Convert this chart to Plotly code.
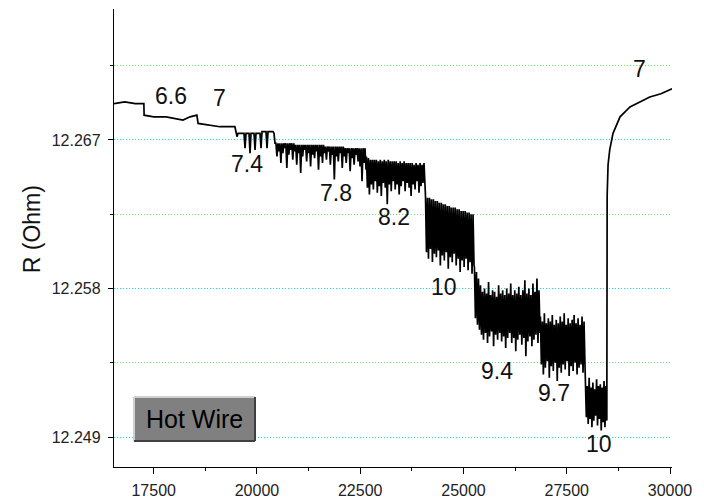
import numpy as np
import plotly.graph_objects as go

# ---------------- data ----------------
# smooth early part (time, R)
smooth_t = [16539, 16800, 17050, 17262, 17268, 17500, 17800, 18050, 18209, 18380, 18545, 18575, 18800, 19100, 19466, 19490]
smooth_v = [12.2692, 12.2693, 12.2692, 12.2692, 12.2685, 12.2684, 12.2684, 12.2683, 12.2682, 12.2684, 12.2685,
            12.2680, 12.2679, 12.2678, 12.2678, 12.2674]

# noisy plateaus: (start time, end time) and sampled values
seg_D_range = (19493, 20437)
seg_D = [12.2674, 12.2672, 12.2674, 12.2674, 12.2674, 12.2674, 12.2674, 12.2674, 12.2674, 12.2665,
         12.2674, 12.2674, 12.2674, 12.2674, 12.2662, 12.2674, 12.2674, 12.2674, 12.2674, 12.2664,
         12.2674, 12.2674, 12.2674, 12.2674, 12.2674, 12.2665, 12.2675, 12.2675, 12.2675, 12.2675,
         12.2675, 12.2665, 12.2675, 12.2675, 12.2675, 12.2675, 12.2675, 12.2675, 12.2674, 12.2668]

seg_E_range = (20460, 22640)
seg_E = [12.2668, 12.2660, 12.2668, 12.2663, 12.2668, 12.2656, 12.2668, 12.2662, 12.2668, 12.2665,
         12.2668, 12.2653, 12.2668, 12.2661, 12.2668, 12.2664, 12.2668, 12.2658, 12.2668, 12.2663,
         12.2667, 12.2655, 12.2667, 12.2662, 12.2667, 12.2650, 12.2667, 12.2660, 12.2667, 12.2664,
         12.2667, 12.2657, 12.2667, 12.2662, 12.2667, 12.2654, 12.2667, 12.2661, 12.2667, 12.2659,
         12.2667, 12.2663, 12.2667, 12.2652, 12.2667, 12.2660, 12.2667, 12.2656, 12.2667, 12.2662,
         12.2666, 12.2658, 12.2666, 12.2663, 12.2666, 12.2655, 12.2666, 12.2661, 12.2666, 12.2646,
         12.2666, 12.2660, 12.2666, 12.2657, 12.2666, 12.2662, 12.2666, 12.2653, 12.2666, 12.2660,
         12.2665, 12.2656, 12.2665, 12.2662, 12.2665, 12.2651, 12.2665, 12.2659, 12.2665, 12.2655,
         12.2665, 12.2661, 12.2665, 12.2657, 12.2665, 12.2654, 12.2665, 12.2645, 12.2665, 12.2656,
         12.2665, 12.2652]

seg_F_range = (22650, 24068)
seg_F = [12.2660, 12.2641, 12.2659, 12.2637, 12.2658, 12.2643, 12.2658, 12.2640, 12.2658, 12.2645,
         12.2658, 12.2638, 12.2657, 12.2642, 12.2658, 12.2636, 12.2657, 12.2644, 12.2658, 12.2641,
         12.2657, 12.2631, 12.2658, 12.2643, 12.2657, 12.2639, 12.2657, 12.2645, 12.2657, 12.2640,
         12.2657, 12.2643, 12.2656, 12.2637, 12.2657, 12.2642, 12.2656, 12.2645, 12.2657, 12.2639,
         12.2656, 12.2644, 12.2656, 12.2641, 12.2656, 12.2636, 12.2656, 12.2643, 12.2655, 12.2640,
         12.2656, 12.2645, 12.2655, 12.2638, 12.2656, 12.2642, 12.2655, 12.2644, 12.2656, 12.2641]

seg_G_range = (24080, 25255)
seg_G = [12.2636, 12.2602, 12.2635, 12.2598, 12.2635, 12.2604, 12.2634, 12.2596, 12.2634, 12.2601,
         12.2633, 12.2599, 12.2633, 12.2603, 12.2632, 12.2594, 12.2632, 12.2600, 12.2631, 12.2597,
         12.2631, 12.2602, 12.2630, 12.2592, 12.2630, 12.2599, 12.2629, 12.2596, 12.2629, 12.2601,
         12.2629, 12.2594, 12.2628, 12.2598, 12.2628, 12.2590, 12.2627, 12.2597, 12.2627, 12.2593,
         12.2627, 12.2598, 12.2626, 12.2591, 12.2626, 12.2596, 12.2625, 12.2589, 12.2625, 12.2594]

seg_H_range = (25265, 26852)
seg_H = [12.2593, 12.2562, 12.2590, 12.2558, 12.2586, 12.2555, 12.2582, 12.2552, 12.2578, 12.2549,
         12.2580, 12.2553, 12.2577, 12.2547, 12.2584, 12.2551, 12.2576, 12.2554, 12.2579, 12.2545,
         12.2578, 12.2552, 12.2575, 12.2549, 12.2582, 12.2553, 12.2577, 12.2548, 12.2579, 12.2551,
         12.2576, 12.2544, 12.2580, 12.2550, 12.2577, 12.2553, 12.2583, 12.2547, 12.2576, 12.2550,
         12.2579, 12.2542, 12.2577, 12.2549, 12.2581, 12.2552, 12.2576, 12.2546, 12.2579, 12.2550,
         12.2585, 12.2539, 12.2577, 12.2548, 12.2580, 12.2551, 12.2576, 12.2545, 12.2583, 12.2549,
         12.2578, 12.2552, 12.2586, 12.2547, 12.2579, 12.2553]

seg_I_range = (26862, 27942)
seg_I = [12.2563, 12.2534, 12.2560, 12.2528, 12.2565, 12.2532, 12.2559, 12.2536, 12.2562, 12.2526,
         12.2560, 12.2533, 12.2564, 12.2530, 12.2558, 12.2535, 12.2561, 12.2524, 12.2559, 12.2532,
         12.2563, 12.2529, 12.2560, 12.2534, 12.2565, 12.2531, 12.2558, 12.2536, 12.2562, 12.2527,
         12.2559, 12.2533, 12.2561, 12.2530, 12.2564, 12.2535, 12.2559, 12.2528, 12.2562, 12.2532,
         12.2558, 12.2534, 12.2563, 12.2529, 12.2560, 12.2533]

seg_J_range = (27952, 28470)
seg_J = [12.2524, 12.2502, 12.2521, 12.2498, 12.2526, 12.2501, 12.2520, 12.2496, 12.2523, 12.2500,
         12.2519, 12.2503, 12.2525, 12.2497, 12.2521, 12.2501, 12.2522, 12.2494, 12.2520, 12.2499,
         12.2524, 12.2496, 12.2521, 12.2500]

# recovery after switching back
rec_t = [28478, 28500, 28540, 28620, 28790, 29030, 29270, 29510, 29780, 30048]
rec_v = [12.2636, 12.2655, 12.2664, 12.2674, 12.2684, 12.2690, 12.2693, 12.2696, 12.2698, 12.2701]

# labels of the curve (text, time, R)
label_text = ["6.6", "7", "7.4", "7.8", "8.2", "10", "9.4", "9.7", "10", "7"]
label_t = [17919, 19093, 19759, 21914, 23306, 24516, 25823, 27191, 28269, 29273]
label_v = [12.26969, 12.26954, 12.26557, 12.26381, 12.26236, 12.25812, 12.25302, 12.25169, 12.24860, 12.27127]

y_ticks = [12.249, 12.258, 12.267]
x_ticks = [17500, 20000, 22500, 25000, 27500, 30000]

# ---------------- build series ----------------
t_all = list(smooth_t)
v_all = list(smooth_v)
for rng, vals in [(seg_D_range, seg_D), (seg_E_range, seg_E), (seg_F_range, seg_F), (seg_G_range, seg_G),
                  (seg_H_range, seg_H), (seg_I_range, seg_I), (seg_J_range, seg_J)]:
    t_all += list(np.linspace(rng[0], rng[1], len(vals)))
    v_all += vals
t_all += rec_t
v_all += rec_v

FONT = "Arial, Liberation Sans, sans-serif"

fig = go.Figure()
fig.add_trace(go.Scatter(x=t_all, y=v_all, mode="lines",
                         line=dict(color="black", width=1.7), showlegend=False, hoverinfo="skip"))

annotations = []
for txt, tx, ty in zip(label_text, label_t, label_v):
    annotations.append(dict(x=tx, y=ty, xref="x", yref="y", text=txt, showarrow=False,
                            font=dict(family=FONT, size=23, color="#111111"),
                            xanchor="center", yanchor="middle"))

# y-axis title
annotations.append(dict(x=-0.147, y=0.519, xref="paper", yref="paper", text="R (Ohm)", showarrow=False,
                        textangle=-90, font=dict(family=FONT, size=23, color="#111111"),
                        xanchor="center", yanchor="middle"))

# Hot Wire button
bx0, bx1, by0, by1 = 0.0358, 0.2527, 0.0568, 0.1528
shapes = [
    dict(type="rect", xref="paper", yref="paper", x0=bx0, x1=bx1, y0=by0, y1=by1,
         fillcolor="#808080", line=dict(width=0), layer="above"),
    dict(type="line", xref="paper", yref="paper", x0=bx0, x1=bx1, y0=by1, y1=by1,
         line=dict(color="#d0d0d0", width=2), layer="above"),
    dict(type="line", xref="paper", yref="paper", x0=bx0, x1=bx0, y0=by0, y1=by1,
         line=dict(color="#d0d0d0", width=2), layer="above"),
    dict(type="line", xref="paper", yref="paper", x0=bx0, x1=bx1, y0=by0, y1=by0,
         line=dict(color="#404040", width=2), layer="above"),
    dict(type="line", xref="paper", yref="paper", x0=bx1, x1=bx1, y0=by0, y1=by1,
         line=dict(color="#404040", width=2), layer="above"),
]
annotations.append(dict(x=(bx0 + bx1) / 2, y=(by0 + by1) / 2, xref="paper", yref="paper", text="Hot Wire",
                        showarrow=False, font=dict(family=FONT, size=25, color="black"),
                        xanchor="center", yanchor="middle"))

# the page body has an 8px margin, so the figure is offset by (8, 8) on screen
fig.update_layout(
    width=696, height=491,
    margin=dict(l=106, r=32, t=1, b=32),
    paper_bgcolor="white", plot_bgcolor="white",
    annotations=annotations, shapes=shapes,
    font=dict(family=FONT, color="#222222"),
)
fig.update_xaxes(
    range=[16539, 30048], tickvals=x_ticks, tickformat="d", automargin=False,
    showline=True, linecolor="black", linewidth=1.3, mirror=False,
    ticks="outside", ticklen=6, tickwidth=1.3, tickcolor="black",
    tickfont=dict(family=FONT, size=16, color="#222222"),
    showgrid=False, zeroline=False, ticklabelstandoff=3,
    minor=dict(ticks="outside", ticklen=3, tickwidth=1.3, tickcolor="black", dtick=1250, tick0=17500,
               showgrid=False),
)
fig.update_yaxes(
    range=[12.24719, 12.27493], tickvals=y_ticks, tickformat=".3f", automargin=False,
    showline=True, linecolor="black", linewidth=1.3, mirror=False,
    ticks="outside", ticklen=5, tickwidth=1.3, tickcolor="black",
    tickfont=dict(family=FONT, size=16, color="#222222"),
    showgrid=True, gridcolor="#00e8f4", gridwidth=1, griddash="1px,2px",
    zeroline=False, ticklabelstandoff=4,
    minor=dict(ticks="outside", ticklen=3, tickwidth=1.3, tickcolor="black", dtick=0.0045, tick0=12.249,
               showgrid=True, gridcolor="#66e866", gridwidth=1, griddash="1px,2px"),
)

fig.write_html("out.html")
